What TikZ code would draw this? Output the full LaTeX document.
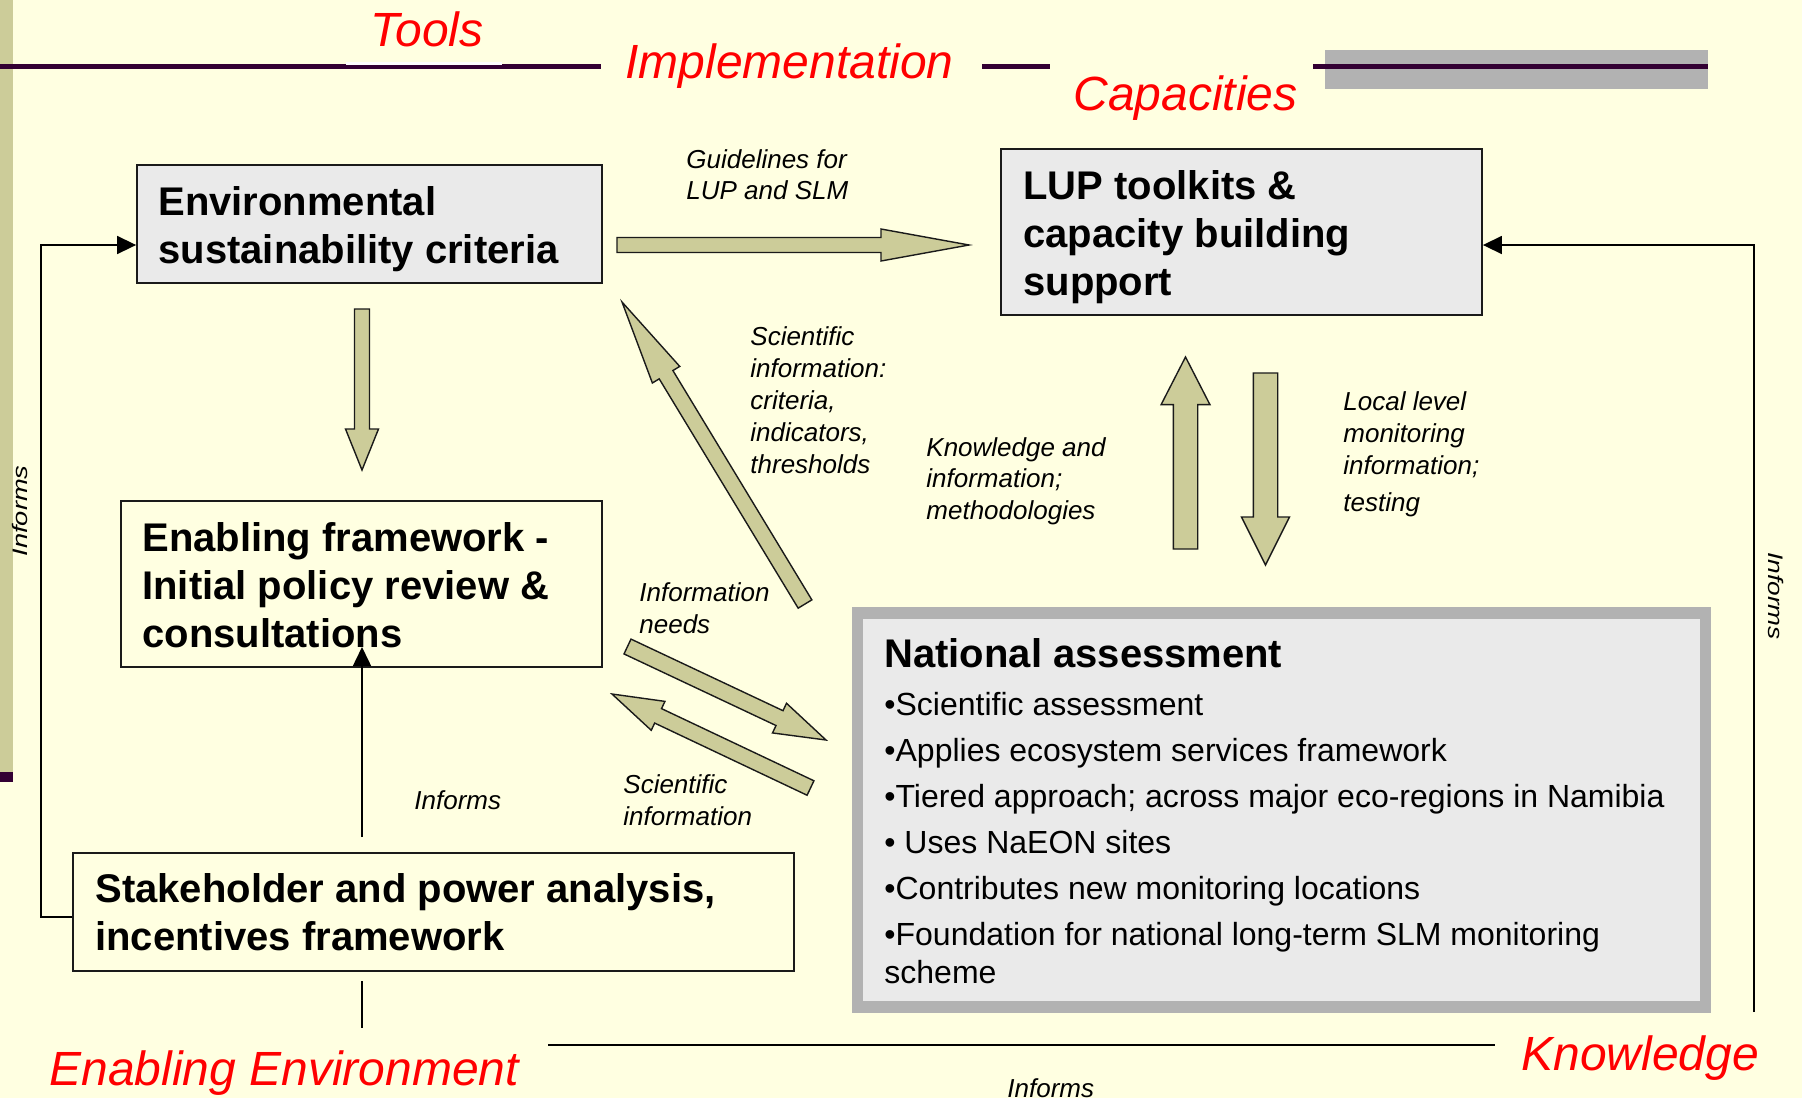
\documentclass[tikz,border=0pt]{standalone}
\usepackage{fontspec}
\setmainfont{Liberation Sans}
\usetikzlibrary{calc,arrows.meta}

\definecolor{pagebg}{HTML}{FFFFE1}
\definecolor{khaki}{HTML}{CCCC99}
\definecolor{plum}{HTML}{330033}
\definecolor{band}{HTML}{B2B2B2}
\definecolor{panel}{HTML}{EAEAEA}
\definecolor{ink}{HTML}{1A1A1A}

\tikzset{
  px/.style={x=0.5pt,y=-0.5pt},
  heading/.style={text=red, font=\fontsize{24}{28}\selectfont\itshape, anchor=base west, inner sep=0},
  % multi-line texts are placed by the baseline of their last line
  boxtext/.style={font=\fontsize{20}{24}\selectfont\bfseries, anchor=base west, inner sep=0, align=left},
  note/.style={font=\fontsize{13}{15.5}\selectfont\itshape, anchor=base west, inner sep=0, align=left},
  sidenote/.style={font=\fontsize{10.5}{12}\selectfont\itshape, anchor=base, inner sep=0},
  greybox/.style={draw=ink, line width=0.9pt, fill=panel, inner sep=0},
  plainbox/.style={draw=ink, line width=0.9pt, inner sep=0},
  blockarrow/.style={fill=khaki, draw=ink, line width=0.7pt, line join=miter},
  thinline/.style={draw=black, line width=0.8pt},
  thinarrow/.style={thinline, -{Triangle[length=9.5pt,width=9pt]}},
  rule/.style={draw=plum, line width=2.2pt},
}

% fat block arrow: #1 tail, #2 tip, #3 half shaft width, #4 half head width, #5 head length
\newcommand\fatarrow[5]{%
  \path ($(#2)!#5!(#1)$) coordinate (fab);
  \draw[blockarrow] ($(#1)!#3!90:(#2)$) -- ($(fab)!#3!-90:(#1)$) -- ($(fab)!#4!-90:(#1)$)
    -- (#2) -- ($(fab)!#4!90:(#1)$) -- ($(fab)!#3!90:(#1)$) -- ($(#1)!#3!-90:(#2)$) -- cycle;
}

\begin{document}
\begin{tikzpicture}[px]
\fill[pagebg] (0,0) rectangle (1802,1098);
\useasboundingbox (0,0) rectangle (1802,1098);

% side bar
\fill[khaki] (0,0) rectangle (12.6,772);
\fill[plum] (0,772) rectangle (12.6,782);

% title rule
\fill[band] (1325,50) rectangle (1708,89);
\draw[rule] (0,66.5) -- (601,66.5);
\draw[white, line width=1.2pt] (346,63.5) -- (502,63.5);
\draw[rule] (982,66.5) -- (1050,66.5);
\draw[rule] (1313,66.5) -- (1708,66.5);

% headings
\node[heading] (hTools) at (370,46) {Tools};
\node[heading] (hImpl) at (625,78) {Implementation};
\node[heading] (hCap) at (1073,110) {Capacities};
\node[heading] (hEnab) at (49,1085) {Enabling Environment};
\node[heading] (hKnow) at (1521,1070) {Knowledge};

% boxes
\node[greybox, minimum width=232.5pt, minimum height=59pt] (crit) at (369.5,224) {};
\node[greybox, minimum width=240.5pt, minimum height=83pt] (lup) at (1241.5,232) {};
\node[plainbox, minimum width=240.5pt, minimum height=83pt] (enab) at (361.5,584) {};
\node[plainbox, minimum width=360.5pt, minimum height=59pt] (stake) at (433.5,912) {};
\node[draw=band, line width=5.75pt, fill=panel, minimum width=424pt, minimum height=197pt, inner sep=0] (nat) at (1281.5,810) {};

\node[boxtext] (critT) at (158,263) {Environmental\\sustainability criteria};
\node[boxtext] (lupT) at (1023,295) {LUP toolkits \&\\capacity building\\support};
\node[boxtext] (enabT) at (142,647) {Enabling framework -\\Initial policy review \&\\consultations};
\node[boxtext] (stakeT) at (95,950) {Stakeholder and power analysis,\\incentives framework};
\node[boxtext] (natT) at (884,667) {National assessment};
\node[anchor=base west, inner sep=0, align=left, font=\fontsize{16}{23}\selectfont] (natL) at (884,983)
  {•Scientific assessment\\•Applies ecosystem services framework\\•Tiered approach; across major eco-regions in Namibia\\• Uses NaEON sites\\•Contributes new monitoring locations\\•Foundation for national long-term SLM monitoring\\[-4pt]scheme};

% block arrows
\coordinate (aT) at (617,245);    \coordinate (aH) at (969,245);
\coordinate (bT) at (362,309);    \coordinate (bH) at (362,470);
\coordinate (cT) at (805,604);    \coordinate (cH) at (622,302);
\coordinate (dT) at (627.5,646.5);\coordinate (dH) at (826,740);
\coordinate (eT) at (810.5,788);  \coordinate (eH) at (612,694);
\coordinate (fT) at (1185.5,549); \coordinate (fH) at (1185.5,357);
\coordinate (gT) at (1265.5,373); \coordinate (gH) at (1265.5,565);
\fatarrow{aT}{aH}{3.75pt}{8pt}{44pt}
\fatarrow{bT}{bH}{3.75pt}{8.25pt}{20.5pt}
\fatarrow{cT}{cH}{4pt}{8pt}{42.5pt}
\fatarrow{dT}{dH}{4.1pt}{8.2pt}{25.7pt}
\fatarrow{eT}{eH}{4pt}{8pt}{25.5pt}
\fatarrow{fT}{fH}{6.1pt}{12.2pt}{23.8pt}
\fatarrow{gT}{gH}{6.1pt}{12pt}{24pt}

% thin connectors
\coordinate (lbend) at (41,917);  \coordinate (ltop) at (41,245);
\draw[thinarrow] (lbend -| stake.west) -- (lbend) -- (ltop) -- (ltop -| crit.west);
\coordinate (rbot) at (1754,1012); \coordinate (rtop) at (1754,245);
\draw[thinarrow] (rbot) -- (rtop) -- (rtop -| lup.east);
\coordinate (m1) at (362,837); \coordinate (m2) at (362,647);
\draw[thinarrow] (m1) -- (m2);
\coordinate (s1) at (362,981); \coordinate (s2) at (362,1028);
\draw[thinline] (s1) -- (s2);
\coordinate (b1) at (548,1045); \coordinate (b2) at (1495,1045);
\draw[thinline] (b1) -- (b2);

% labels
\node[note] (lGuide) at (686,199) {Guidelines for\\LUP and SLM};
\node[note, font=\fontsize{13}{16}\selectfont\itshape] (lSci) at (750,473) {Scientific\\information:\\criteria,\\indicators,\\thresholds};
\node[note, font=\fontsize{13}{15.75}\selectfont\itshape] (lKnow) at (926,519) {Knowledge and\\information;\\methodologies};
\node[note, font=\fontsize{13}{16}\selectfont\itshape] (lLocal) at (1343,511) {Local level\\monitoring\\information;\\[2.5pt]testing};
\node[note, font=\fontsize{13}{16}\selectfont\itshape] (lNeeds) at (639,633) {Information\\needs};
\node[note, font=\fontsize{13}{16}\selectfont\itshape] (lSciB) at (623,825) {Scientific\\information};
\node[note] (lInfM) at (414,809) {Informs};
\node[note] (lInfB) at (1007,1097) {Informs};
\node[sidenote, rotate=90] (lInfL) at (27,511) {\scalebox{1.3}[1]{Informs}};
\node[sidenote, rotate=-90] (lInfR) at (1768,596) {\scalebox{1.25}[1]{Informs}};
\end{tikzpicture}
\end{document}
